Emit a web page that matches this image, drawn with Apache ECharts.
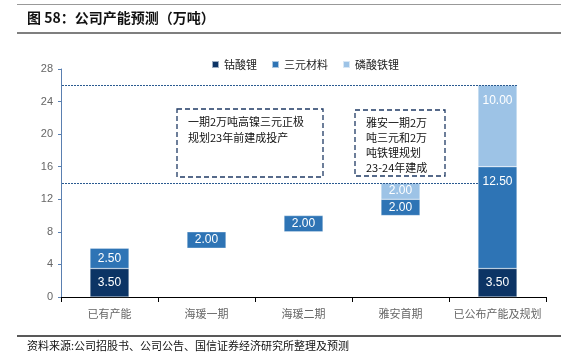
<!DOCTYPE html>
<html>
<head>
<meta charset="utf-8">
<script src="https://cdn.jsdelivr.net/npm/echarts@6/dist/echarts.min.js"></script>
<style>
html,body{margin:0;padding:0;background:#fff;}
#main{width:561px;height:354px;}
</style>
</head>
<body>
<div id="main"></div>
<script>
// ---- data ----
var categories = ['已有产能', '海瑗一期', '海瑗二期', '雅安首期', '已公布产能及规划'];
var baseValues = [0, 6, 8, 10, 0];            // invisible offset (waterfall)
var licoValues = [3.5, '-', '-', '-', 3.5];     // 钴酸锂
var nmcValues = [2.5, 2, 2, 2, 12.5];           // 三元材料
var lfpValues = ['-', '-', '-', 2, 10];         // 磷酸铁锂
var seriesNames = ['钴酸锂', '三元材料', '磷酸铁锂'];
var refLines = [14, 26];
var yTicks = {min: 0, max: 28, interval: 4};
var titleText = '图 58：公司产能预测（万吨）';
var sourceText = '资料来源:公司招股书、公司公告、国信证券经济研究所整理及预测';
var note1 = ['一期2万吨高镍三元正极', '规划23年前建成投产'];
var note2 = ['雅安一期2万', '吨三元和2万', '吨铁锂规划', '23-24年建成'];

var colors = ['#0c3465', '#2e74b5', '#9dc3e6'];
var FONT = '"Noto Sans CJK SC", "Noto Sans", sans-serif';
var BAR_W = 39;

var chart = echarts.init(document.getElementById('main'), null, {renderer: 'canvas'});

function labelCfg() {
  return {
    show: true, position: 'inside', color: '#fff', fontSize: 12,
    fontFamily: 'Liberation Sans, Arial, sans-serif',
    formatter: function (p) { return Number(p.value).toFixed(2); }
  };
}
// tall segments get their label near the top, as in the reference
function items(arr) {
  return arr.map(function (v) {
    if (v !== '-' && v > 5) return {value: v, label: {position: 'insideTop', distance: 9}};
    return v;
  });
}

var option = {
  animation: false,
  textStyle: {fontFamily: FONT},
  grid: {left: 61, right: 15, top: 69, bottom: 57, containLabel: false},
  legend: {
    data: seriesNames, top: 54, left: 206,
    itemWidth: 7, itemHeight: 7, itemGap: 14, icon: 'rect',
    textStyle: {fontSize: 11, color: '#222', fontFamily: FONT}
  },
  xAxis: {
    type: 'category', data: categories,
    axisLine: {lineStyle: {color: '#000', width: 1}},
    axisTick: {show: true, length: 5, lineStyle: {color: '#000'}, alignWithLabel: false},
    axisLabel: {color: '#666', fontSize: 11, margin: 11, interval: 0, fontFamily: FONT}
  },
  yAxis: {
    type: 'value', min: yTicks.min, max: yTicks.max, interval: yTicks.interval,
    axisLine: {show: true, lineStyle: {color: '#5a7fb0', width: 1}},
    axisTick: {show: true, length: 3, lineStyle: {color: '#5a7fb0'}},
    axisLabel: {color: '#666', fontSize: 11, margin: 8, fontFamily: 'Liberation Sans, Arial, sans-serif'},
    splitLine: {show: false}
  },
  series: [
    {name: 'base', type: 'bar', stack: 't', data: baseValues, barWidth: BAR_W,
     itemStyle: {color: 'transparent'}, silent: true, legendHoverLink: false},
    {name: seriesNames[0], type: 'bar', stack: 't', data: items(licoValues), barWidth: BAR_W,
     itemStyle: {color: colors[0], borderColor: 'rgba(255,255,255,0.6)', borderWidth: 0.5}, label: labelCfg()},
    {name: seriesNames[1], type: 'bar', stack: 't', data: items(nmcValues), barWidth: BAR_W,
     itemStyle: {color: colors[1], borderColor: 'rgba(255,255,255,0.6)', borderWidth: 0.5}, label: labelCfg()},
    {name: seriesNames[2], type: 'bar', stack: 't', data: items(lfpValues), barWidth: BAR_W,
     itemStyle: {color: colors[2], borderColor: 'rgba(255,255,255,0.6)', borderWidth: 0.5}, label: labelCfg()}
  ]
};
chart.setOption(option);

// annotations computed from the library's scales
var x0 = chart.convertToPixel({xAxisIndex: 0}, categories[0]);
var xLast = chart.convertToPixel({xAxisIndex: 0}, categories[categories.length - 1]);
var catW = chart.convertToPixel({xAxisIndex: 0}, categories[1]) - x0;
var axisLeft = x0 - catW / 2;
var maxRef = Math.max.apply(null, refLines);

var graphics = [];
refLines.forEach(function (v) {
  var y = Math.round(chart.convertToPixel({yAxisIndex: 0}, v)) + 0.5;
  // the line at the final total runs over the bar top; lower lines stop at the bar
  var xEnd = v >= maxRef ? xLast + BAR_W / 2 : xLast - BAR_W / 2;
  graphics.push({type: 'line', shape: {x1: axisLeft + 1, y1: y, x2: xEnd, y2: y},
    style: {stroke: '#2a5a90', lineWidth: 1, lineDash: [2, 1]}, z: 10});
});

function box(x, y, w, h, lines, tx, ty, lh) {
  graphics.push({type: 'rect', shape: {x: x, y: y, width: w, height: h},
    style: {fill: 'none', stroke: '#1f3a64', lineWidth: 1.3, lineDash: [5, 3]}, z: 10});
  lines.forEach(function (t, i) {
    graphics.push({type: 'text', x: tx, y: ty + i * lh,
      style: {text: t, fill: '#111', fontSize: 11, fontFamily: FONT, textVerticalAlign: 'middle', verticalAlign: 'middle'}, z: 10});
  });
}
box(177, 109, 146, 68, note1, 188, 122, 16);
box(355, 110, 90, 66, note2, 366, 123, 15);

// title & source
graphics.push({type: 'line', shape: {x1: 17, y1: 4.5, x2: 561, y2: 4.5}, style: {stroke: '#999', lineWidth: 1}});
graphics.push({type: 'text', x: 27, y: 18, style: {text: titleText, fill: '#111', fontSize: 14, fontWeight: 'bold', fontFamily: FONT, verticalAlign: 'middle', textVerticalAlign: 'middle'}});
graphics.push({type: 'line', shape: {x1: 17, y1: 33, x2: 561, y2: 33}, style: {stroke: '#555', lineWidth: 1.5}});
graphics.push({type: 'line', shape: {x1: 17, y1: 336, x2: 561, y2: 336}, style: {stroke: '#222', lineWidth: 1.5}});
graphics.push({type: 'text', x: 27, y: 346, style: {text: sourceText, fill: '#111', fontSize: 11, fontFamily: FONT, verticalAlign: 'middle', textVerticalAlign: 'middle'}});

chart.setOption({graphic: graphics});
</script>
</body>
</html>
